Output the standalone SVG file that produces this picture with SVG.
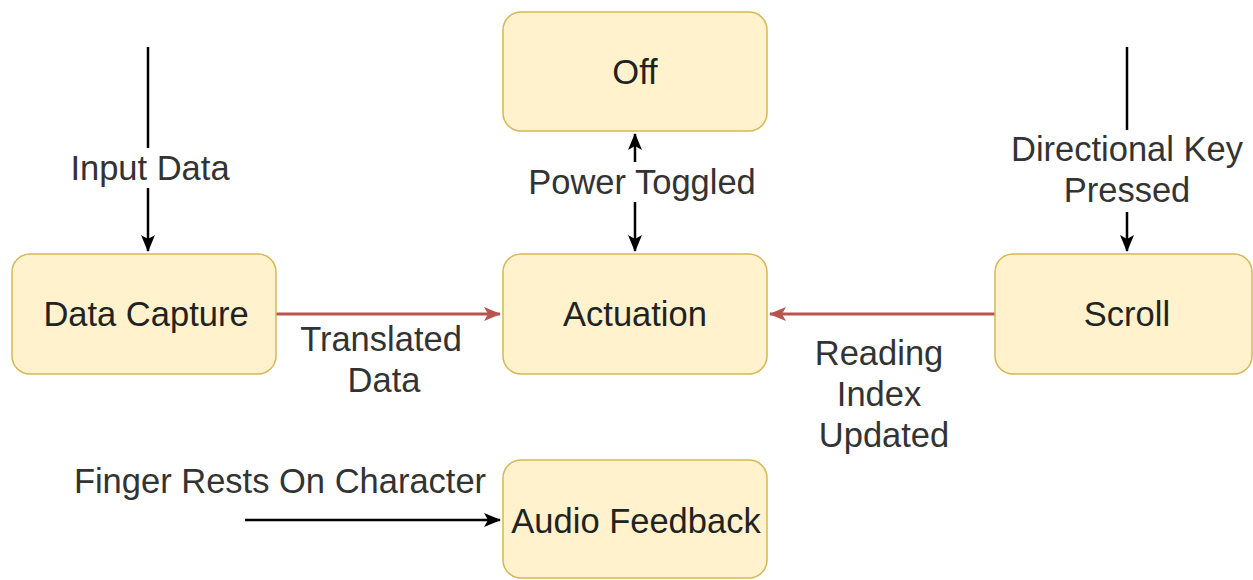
<svg xmlns="http://www.w3.org/2000/svg" width="1253" height="580" viewBox="0 0 1253 580">
<style>
.node rect{fill:#fff2cc;stroke:#d6b656;stroke-width:1.5}
text{font-family:"Liberation Sans",Arial,sans-serif;font-size:34.5px;fill:#222;text-anchor:middle}
.lbl{fill:#333}
.blk{stroke:#000;stroke-width:2.5;fill:none}
.red{stroke:#b85450;stroke-width:3;fill:none}
</style>
<defs>
<marker id="ab" refX="16" refY="0" markerWidth="20" markerHeight="20" markerUnits="userSpaceOnUse" orient="auto" overflow="visible">
<path d="M0,-7 L17,0 L0,7 L4,0 Z" fill="#000"/>
</marker>
<marker id="ar" refX="16" refY="0" markerWidth="20" markerHeight="20" markerUnits="userSpaceOnUse" orient="auto" overflow="visible">
<path d="M0,-7 L17,0 L0,7 L4,0 Z" fill="#b85450"/>
</marker>
</defs>
<g id="connectors">
<line class="blk" x1="148" y1="47" x2="148" y2="251" marker-end="url(#ab)"/>
<line class="blk" x1="635" y1="202" x2="635" y2="251" marker-end="url(#ab)"/>
<line class="blk" x1="635" y1="162" x2="635" y2="134" marker-end="url(#ab)"/>
<line class="blk" x1="1127" y1="47" x2="1127" y2="251" marker-end="url(#ab)"/>
<line class="red" x1="276" y1="314" x2="500" y2="314" marker-end="url(#ar)"/>
<line class="red" x1="995" y1="314" x2="770" y2="314" marker-end="url(#ar)"/>
<line class="blk" x1="245" y1="520" x2="500" y2="520" marker-end="url(#ab)"/>
<rect x="60" y="148" width="178" height="40" fill="#fff"/>
<rect x="522" y="164" width="242" height="36" fill="#fff"/>
<rect x="1005" y="130" width="246" height="82" fill="#fff"/>
<text class="lbl" x="150" y="180">Input Data</text>
<text class="lbl" x="642" y="194">Power Toggled</text>
<text class="lbl" x="1127" y="161">Directional Key</text>
<text class="lbl" x="1127" y="202">Pressed</text>
<text class="lbl" x="381" y="351">Translated</text>
<text class="lbl" x="384" y="392">Data</text>
<text class="lbl" x="879" y="365">Reading</text>
<text class="lbl" x="879" y="406">Index</text>
<text class="lbl" x="884" y="447">Updated</text>
<text class="lbl" x="280" y="493">Finger Rests On Character</text>
</g>
<g id="off" class="node"><rect x="503" y="12" width="264" height="119" rx="18"/><text x="635" y="84">Off</text></g>
<g id="actuation" class="node"><rect x="503" y="254" width="264" height="120" rx="18"/><text x="635" y="326">Actuation</text></g>
<g id="data-capture" class="node"><rect x="12" y="254" width="264" height="120" rx="18"/><text x="146" y="326">Data Capture</text></g>
<g id="scroll" class="node"><rect x="995" y="254" width="257" height="120" rx="18"/><text x="1127" y="326">Scroll</text></g>
<g id="audio-feedback" class="node"><rect x="503" y="460" width="264" height="118" rx="18"/><text x="636" y="533">Audio Feedback</text></g>
</svg>
